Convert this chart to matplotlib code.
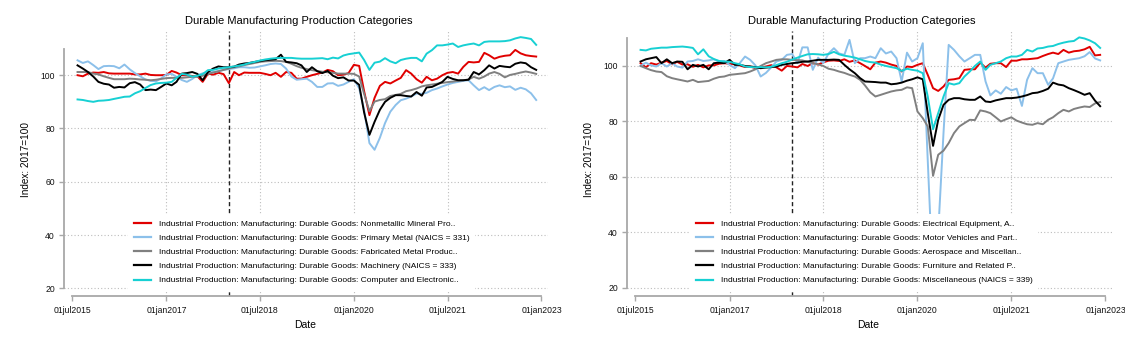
import matplotlib
matplotlib.use("Agg")
import matplotlib.pyplot as plt
import matplotlib.dates as mdates
import pandas as pd

# monthly index values, Aug 2015 .. Dec 2022 (2017=100)
dates = pd.date_range("2015-08-01", periods=89, freq="MS")

# --- left panel ---
nonmetallic = [100.0, 99.6, 100.6, 101.0, 100.9, 101.2, 100.7, 100.6, 100.6, 100.6,
               100.6, 100.3, 100.3, 100.6, 100.1, 100.0, 100.0, 100.1, 101.6, 101.0,
               100.0, 100.0, 99.7, 99.6, 97.5, 100.6, 100.2, 100.9, 100.4, 97.0,
               101.2, 100.0, 101.0, 100.9, 100.9, 100.9, 100.5, 100.0, 100.9, 99.4,
               101.2, 100.9, 98.7, 98.7, 99.4, 100.0, 100.5, 101.0, 102.0, 101.5,
               100.0, 100.2, 100.8, 103.9, 103.5, 94.0, 85.0, 91.5, 96.0, 97.5,
               96.9, 98.0, 99.0, 101.9, 100.6, 98.5, 97.2, 99.4, 98.1, 98.7,
               100.0, 100.9, 101.2, 100.6, 103.1, 105.0, 104.8, 105.0, 108.4, 107.5,
               106.2, 106.9, 107.3, 107.5, 109.5, 108.2, 107.5, 107.2, 107.0]
primary_metal = [105.6, 104.6, 105.2, 103.8, 102.3, 103.4, 103.5, 103.4, 102.6, 104.0,
                 102.2, 100.8, 99.6, 98.4, 97.9, 97.7, 98.8, 100.3, 100.5, 99.4,
                 98.2, 97.5, 98.6, 100.0, 100.7, 101.0, 101.2, 101.5, 102.0, 102.3,
                 102.6, 103.0, 103.0, 102.8, 102.9, 103.3, 103.7, 104.2, 104.4, 104.2,
                 102.5, 99.5, 98.3, 98.5, 98.7, 97.5, 95.6, 95.6, 96.9, 97.0,
                 96.0, 96.5, 97.5, 98.5, 95.1, 87.0, 74.5, 72.0, 76.5, 82.0,
                 86.3, 88.8, 90.6, 91.2, 92.0, 93.1, 93.0, 93.4, 94.4, 95.0,
                 95.8, 96.5, 97.1, 97.5, 97.9, 98.1, 96.2, 94.4, 95.5, 94.4,
                 95.6, 96.2, 95.5, 95.8, 94.5, 95.3, 94.7, 93.2, 90.7]
fabricated = [101.2, 101.2, 101.2, 100.6, 100.3, 99.6, 99.0, 98.5, 98.5, 98.5,
              98.7, 98.6, 98.4, 98.3, 98.1, 98.3, 98.6, 98.9, 99.0, 99.0,
              99.0, 99.2, 99.4, 99.4, 99.8, 100.5, 101.0, 101.5, 102.0, 102.5,
              103.0, 103.3, 103.8, 104.2, 104.6, 105.0, 105.2, 105.3, 105.4, 105.3,
              105.0, 104.3, 103.4, 102.8, 102.3, 101.9, 101.6, 101.3, 101.1, 100.9,
              100.6, 100.6, 100.6, 100.5, 99.5, 93.0, 86.5, 90.1, 90.7, 91.0,
              92.2, 92.6, 93.0, 94.0, 94.4, 95.0, 95.8, 96.2, 96.5, 96.8,
              97.1, 97.4, 97.6, 97.9, 98.1, 98.4, 99.4, 98.7, 99.5, 100.6,
              101.2, 100.5, 99.2, 100.1, 100.5, 101.0, 101.4, 101.0, 100.5]
machinery = [103.7, 102.5, 101.2, 99.5, 97.5, 96.8, 96.5, 95.3, 95.6, 95.4,
             97.0, 97.4, 96.5, 94.4, 94.6, 94.4, 95.6, 96.9, 96.2, 97.5,
             100.6, 100.8, 101.2, 100.5, 98.1, 101.2, 102.5, 103.3, 103.0, 103.0,
             103.2, 104.0, 104.4, 104.6, 105.0, 105.3, 105.6, 105.8, 106.0, 107.7,
             105.0, 104.8, 104.5, 103.7, 101.2, 103.0, 101.5, 100.8, 101.6, 99.8,
             98.9, 99.2, 98.0, 98.0, 96.4, 86.0, 77.6, 82.5, 87.0, 90.0,
             91.5, 92.5, 92.5, 92.2, 92.0, 93.7, 92.3, 95.4, 95.6, 96.5,
             97.5, 99.4, 98.6, 98.1, 98.1, 98.3, 101.2, 100.3, 101.9, 103.7,
             102.5, 103.5, 103.2, 103.0, 104.3, 104.8, 104.5, 103.0, 102.0]
computer = [90.9, 90.7, 90.3, 90.0, 90.4, 90.5, 90.7, 91.1, 91.5, 91.9,
            92.0, 93.2, 94.0, 95.2, 96.3, 96.9, 97.1, 97.2, 97.5, 99.0,
            100.5, 100.2, 99.5, 99.8, 100.4, 101.9, 102.0, 102.5, 102.8, 103.0,
            103.3, 103.6, 104.0, 104.6, 105.0, 105.5, 105.9, 106.2, 106.4, 106.5,
            106.5, 106.5, 106.3, 106.2, 106.2, 106.2, 106.3, 106.4, 106.0, 106.6,
            106.3, 107.4, 107.9, 108.2, 108.5, 105.7, 102.0, 104.7, 105.1, 106.4,
            105.2, 104.5, 105.7, 106.2, 106.5, 106.5, 105.2, 108.1, 109.4, 111.2,
            111.2, 111.5, 111.9, 110.6, 111.2, 111.6, 111.9, 111.2, 112.5, 112.7,
            112.7, 112.7, 112.8, 113.1, 113.8, 114.3, 114.0, 113.6, 111.4]

# --- right panel ---
electrical = [101.0, 99.5, 101.0, 100.5, 101.2, 101.8, 100.6, 101.5, 100.5, 100.6,
              99.7, 100.4, 99.5, 100.2, 100.2, 100.8, 101.0, 100.8, 100.6, 100.2,
              99.6, 99.8, 99.2, 99.5, 99.8, 100.3, 99.5, 98.3, 100.0, 99.8,
              99.5, 100.7, 100.0, 101.0, 100.5, 101.3, 101.9, 102.0, 101.8, 102.4,
              101.5, 102.0, 101.0, 100.0, 98.8, 101.2, 101.6, 101.2, 100.5, 100.0,
              98.0, 99.8, 99.6, 100.4, 101.0, 96.8, 92.0, 91.0, 92.6, 95.0,
              95.2, 95.6, 98.6, 98.8, 98.8, 101.2, 99.4, 100.8, 101.0, 101.0,
              99.6, 101.9, 101.9, 102.4, 102.4, 102.6, 102.8, 103.6, 104.3, 104.8,
              104.3, 105.8, 104.8, 105.3, 105.5, 106.0, 106.9, 103.8, 104.0]
motor_vehicles = [100.0, 101.2, 100.2, 99.8, 101.0, 99.8, 101.0, 99.8, 99.4, 101.6,
                  101.8, 102.4, 101.8, 102.0, 102.4, 101.6, 101.8, 100.4, 99.2, 101.0,
                  103.4, 102.2, 100.2, 96.2, 97.5, 99.5, 101.6, 102.2, 104.0, 104.3,
                  101.0, 106.7, 106.7, 98.6, 103.0, 101.0, 104.5, 106.4, 104.5, 104.0,
                  109.4, 101.0, 102.8, 102.8, 103.4, 102.8, 106.4, 104.5, 105.2, 102.8,
                  94.4, 104.8, 101.6, 102.8, 108.2, 66.0, 22.0, 40.0, 76.0, 107.6,
                  105.8, 103.5, 101.6, 102.8, 104.0, 104.0, 94.4, 89.4, 91.2, 90.0,
                  92.4, 91.2, 91.8, 85.6, 95.0, 99.2, 97.4, 97.4, 93.2, 95.5,
                  101.0, 101.6, 102.2, 102.5, 102.8, 103.5, 105.0, 102.7, 102.0]
aerospace = [100.0, 99.2, 98.5, 98.0, 97.8, 96.3, 95.6, 95.2, 94.8, 94.4,
             95.0, 94.2, 94.4, 94.6, 95.4, 96.0, 96.2, 96.8, 97.0, 97.2,
             97.4, 98.0, 98.8, 100.0, 101.0, 101.6, 102.2, 102.4, 102.4, 102.2,
             102.1, 102.0, 101.5, 101.0, 100.6, 100.0, 99.0, 98.6, 98.0, 97.5,
             96.8, 96.2, 95.0, 93.0, 90.5, 89.0, 89.6, 90.2, 90.8, 91.2,
             91.4, 92.3, 92.0, 83.6, 81.2, 78.2, 60.4, 68.0, 69.5, 72.2,
             75.8, 78.2, 79.4, 80.6, 80.5, 84.0, 83.6, 83.0, 81.5, 80.0,
             80.8, 81.5, 80.3, 79.6, 79.0, 78.8, 79.4, 79.0, 80.6, 81.5,
             83.0, 84.2, 83.6, 84.5, 85.0, 85.4, 85.2, 86.5, 87.0]
furniture = [101.6, 102.4, 102.8, 103.2, 101.0, 102.4, 101.0, 101.6, 101.5, 98.8,
             100.4, 99.8, 100.4, 98.8, 101.0, 101.2, 101.0, 102.2, 100.4, 100.4,
             100.0, 99.8, 99.6, 99.2, 99.4, 99.6, 99.8, 100.4, 100.7, 101.0,
             101.2, 101.5, 101.6, 101.9, 102.2, 102.2, 102.2, 102.3, 102.2, 100.4,
             98.8, 97.4, 95.6, 94.4, 94.3, 94.2, 94.0, 94.0, 93.4, 93.6,
             94.0, 94.7, 95.2, 95.9, 95.2, 83.0, 71.2, 80.6, 86.0, 87.8,
             88.4, 88.4, 88.0, 87.8, 87.8, 89.0, 87.2, 87.0, 87.6, 88.0,
             88.4, 88.4, 88.6, 89.0, 89.5, 90.2, 90.4, 91.0, 91.8, 94.0,
             93.3, 93.0, 92.0, 91.3, 90.5, 89.6, 90.2, 87.5, 85.5]
miscellaneous = [105.8, 105.6, 106.2, 106.4, 106.6, 106.6, 106.8, 106.9, 107.0, 106.8,
                 106.5, 104.2, 106.0, 103.5, 102.5, 101.8, 101.6, 101.5, 101.0, 100.6,
                 99.8, 99.6, 99.5, 99.6, 99.5, 99.7, 100.3, 101.0, 101.5, 102.3,
                 103.0, 103.6, 104.2, 104.3, 104.2, 104.0, 104.3, 105.1, 104.2, 103.7,
                 103.4, 103.0, 102.4, 101.8, 101.4, 101.2, 100.5, 100.0, 99.6, 99.2,
                 98.2, 99.0, 98.6, 98.3, 97.4, 89.0, 77.2, 83.0, 89.0, 93.8,
                 93.3, 93.8, 96.2, 98.0, 100.0, 101.6, 98.6, 100.4, 101.0, 101.6,
                 102.8, 103.4, 103.4, 104.0, 105.8, 105.2, 106.3, 106.5, 107.0, 107.2,
                 107.9, 108.4, 108.8, 109.0, 110.3, 109.9, 109.2, 108.2, 106.5]

prefix = "Industrial Production: Manufacturing: Durable Goods: "
left_labels = ["Nonmetallic Mineral Pro..", "Primary Metal (NAICS = 331)",
               "Fabricated Metal Produc..", "Machinery (NAICS = 333)",
               "Computer and Electronic.."]
right_labels = ["Electrical Equipment, A..", "Motor Vehicles and Part..",
                "Aerospace and Miscellan..", "Furniture and Related P..",
                "Miscellaneous (NAICS = 339)"]

tick_dates = ["2015-07-01", "2017-01-01", "2018-07-01", "2020-01-01", "2021-07-01", "2023-01-01"]
tick_labels = ["01jul2015", "01jan2017", "01jul2018", "01jan2020", "01jul2021", "01jan2023"]
yticks = [20, 40, 60, 80, 100]

colors = ["#e00000", "#8cc0ea", "#808080", "#000000", "#17d0d3"]
axis_gray = "#a8a8a8"

plt.rcParams["font.family"] = ["Liberation Sans", "DejaVu Sans"]

fig = plt.figure(figsize=(11.25, 3.5), dpi=100)
W, H = 1125.0, 350.0


def draw_panel(left_px, width_px, top_val, series, labels, title_px, ylab_px, leg_px):
    ax = fig.add_axes([left_px / W, 54 / H, width_px / W, (296 - 31) / H])
    for vals, lab, col in zip(series, labels, colors):
        ax.plot(dates, vals, color=col, lw=1.4, label=prefix + lab)
    ax.set_xlim(pd.Timestamp("2015-05-14"), pd.Timestamp("2023-02-08"))
    ax.set_ylim(17.1, top_val)
    ticks = mdates.date2num(pd.to_datetime(tick_dates).to_pydatetime())
    ax.set_xticks(ticks)
    ax.set_xticklabels(tick_labels, fontsize=6.2)
    ax.set_yticks(yticks)
    ax.set_yticklabels([str(v) for v in yticks], fontsize=6.2)
    # grid
    for v in yticks:
        ax.axhline(v, color="#bdbdbd", lw=0.8, ls=(0, (1, 2)), zorder=0)
    for t in ticks[1:-1]:
        ax.axvline(t, color="#bdbdbd", lw=0.8, ls=(0, (1, 2)), zorder=0)
    ax.axvline(pd.Timestamp("2018-01-01"), color="#222222", lw=1.0, ls=(0, (3, 2)), zorder=1)
    for s in ["top", "right"]:
        ax.spines[s].set_visible(False)
    ax.spines["left"].set_bounds(20, 110)
    ax.spines["bottom"].set_bounds(ticks[0], ticks[-1])
    for s in ["left", "bottom"]:
        ax.spines[s].set_color(axis_gray)
        ax.spines[s].set_linewidth(1.3)
    ax.tick_params(axis="both", colors=axis_gray, length=3.5, width=1.0, labelcolor="#111111")
    ax.tick_params(axis="y", pad=3)
    ax.tick_params(axis="x", pad=4)
    fig.text(title_px / W, 1 - 21 / H, "Durable Manufacturing Production Categories",
             ha="center", va="center", fontsize=8)
    fig.text(ylab_px / W, 1 - 160 / H, "Index: 2017=100", rotation=90,
             ha="center", va="center", fontsize=7.2)
    fig.text((left_px + width_px / 2 - 1) / W, 1 - 325 / H, "Date",
             ha="center", va="center", fontsize=7.5)
    leg = ax.legend(loc="upper left", bbox_to_anchor=(leg_px[0] / W, 1 - leg_px[1] / H),
                    bbox_transform=fig.transFigure, fontsize=6.0, frameon=True,
                    fancybox=False, framealpha=1, edgecolor="none", facecolor="white",
                    handlelength=2.0, handletextpad=0.95, labelspacing=0.76,
                    borderpad=0.7)
    leg.set_zorder(5)
    for line in leg.get_lines():
        line.set_linewidth(1.6)
    return ax


draw_panel(64, 484, 116.6, [nonmetallic, primary_metal, fabricated, machinery, computer],
           left_labels, 299, 26, (124, 210))
draw_panel(627, 485, 112.6, [electrical, motor_vehicles, aerospace, furniture, miscellaneous],
           right_labels, 862, 589, (686, 210))

fig.savefig("out.png", dpi=100)
